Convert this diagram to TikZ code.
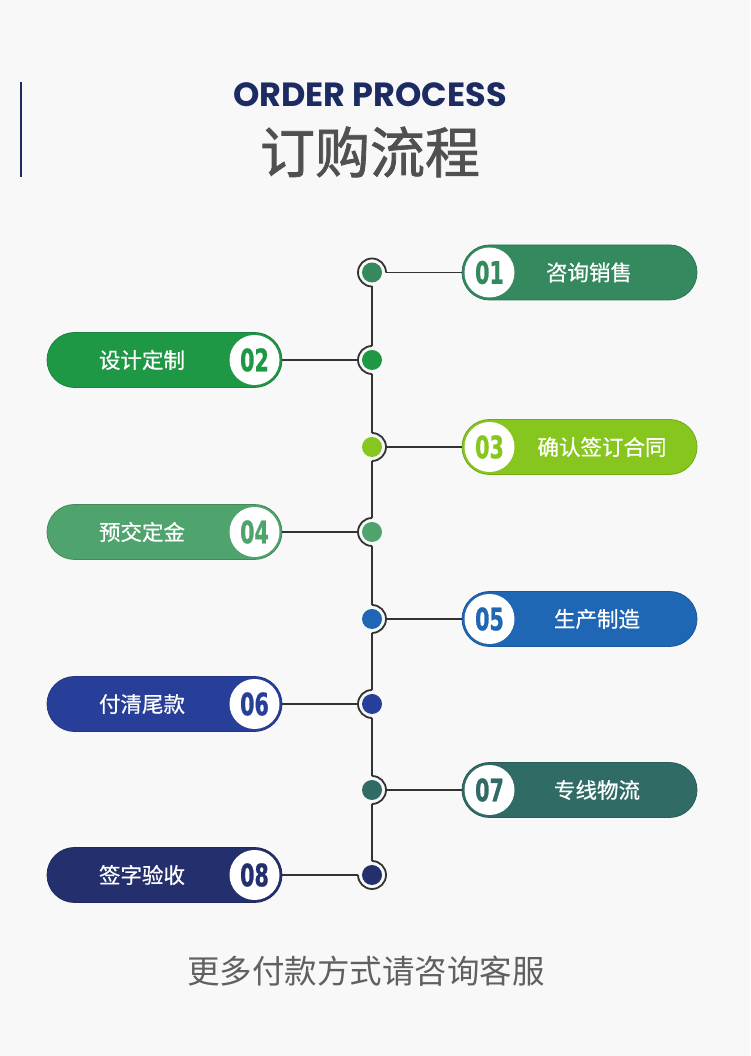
\documentclass[tikz,border=0pt]{standalone}
\usepackage{fontspec}
\setmainfont{Noto Sans CJK SC}
\newfontfamily\cjk{Noto Sans CJK SC}
\newfontfamily\cjkmed[FakeBold=0.6]{Noto Sans CJK SC}
\newfontfamily\cjkbold[FakeBold=1.4]{Noto Sans CJK SC}
\newfontfamily\numfont[FakeStretch=0.74,FakeBold=0.8]{DejaVu Sans Condensed}
\newfontfamily\titlefont{Poppins}
\usetikzlibrary{shapes.misc}
\definecolor{bgc}{HTML}{F8F8F8}
\definecolor{navy}{HTML}{1D2B63}
\definecolor{bar}{HTML}{1F2A5E}
\definecolor{titlegrey}{HTML}{505050}
\definecolor{footgrey}{HTML}{606060}
\definecolor{line}{HTML}{333333}
\definecolor{cA}{HTML}{35895F}
\definecolor{cB}{HTML}{1F9846}
\definecolor{cC}{HTML}{86C61E}
\definecolor{cD}{HTML}{4FA36D}
\definecolor{cE}{HTML}{1F67B5}
\definecolor{cF}{HTML}{283F99}
\definecolor{cG}{HTML}{306B66}
\definecolor{cH}{HTML}{24306E}
\tikzset{
  pill/.style={rounded rectangle, minimum width=235, minimum height=55, inner sep=0, outer sep=0, draw=#1!85!black, line width=0.8, fill=#1},
  numcirc/.style={circle, fill=white, minimum size=50, inner sep=0, outer sep=0, text=#1, font=\numfont\bfseries\fontsize{31}{31}\selectfont},
  lbl/.style={text=white, inner sep=0, font=\cjkmed\fontsize{21.5}{21.5}\selectfont},
  dot/.style={circle, fill=#1, minimum size=20, inner sep=0, outer sep=0},
  conn/.style={draw=line, line width=1.8},
}
% id, y, color, num, label, labelx, arc start, arc end
\newcommand{\rightstep}[8]{%
  \node[pill=#3] (p#1) at (579.5,#2) {};
  \node[numcirc=#3] (n#1) at (489.5,#2) {#4};
  \node[lbl] (l#1) at (#6,#2) {#5};
  \node[dot=#3] (d#1) at (372,#2) {};
  \path (d#1.center) ++(14,0) coordinate (r#1);
  \path (d#1.center) ++(0,14) coordinate (t#1);
  \path (d#1.center) ++(0,-14) coordinate (b#1);
  \draw[conn] (d#1.center) ++(#7:14) arc[start angle=#7, end angle=#8, radius=14];
  \draw[conn] (r#1) -- (p#1.west);
}
\newcommand{\leftstep}[8]{%
  \node[pill=#3] (p#1) at (164.5,#2) {};
  \node[numcirc=#3] (n#1) at (254.5,#2) {#4};
  \node[lbl] (l#1) at (#6,#2) {#5};
  \node[dot=#3] (d#1) at (372,#2) {};
  \path (d#1.center) ++(-14,0) coordinate (r#1);
  \path (d#1.center) ++(0,14) coordinate (t#1);
  \path (d#1.center) ++(0,-14) coordinate (b#1);
  \draw[conn] (d#1.center) ++(#7:14) arc[start angle=#7, end angle=#8, radius=14];
  \draw[conn] (r#1) -- (p#1.east);
}
\begin{document}
\begin{tikzpicture}[x=1pt,y=1pt]
\fill[bgc] (0,0) rectangle (750,1056);
\useasboundingbox (0,0) rectangle (750,1056);
\draw[bar, line width=2] (21,974) -- (21,879);
\node[inner sep=0, text=navy] (title) at (370,961) {\titlefont\bfseries\fontsize{33.5}{33.5}\selectfont ORDER PROCESS};
\node[inner sep=0, text=titlegrey] (subtitle) at (370,904) {\cjkbold\fontsize{55}{55}\selectfont 订购流程};
\rightstep{1}{783.5}{cA}{01}{咨询销售}{589}{270}{0}
\leftstep{2}{696}{cB}{02}{设计定制}{142}{90}{270}
\rightstep{3}{609}{cC}{03}{确认签订合同}{602}{90}{-90}
\leftstep{4}{524}{cD}{04}{预交定金}{142}{90}{270}
\rightstep{5}{437}{cE}{05}{生产制造}{597}{90}{-90}
\leftstep{6}{352}{cF}{06}{付清尾款}{142}{90}{270}
\rightstep{7}{266}{cG}{07}{专线物流}{597}{90}{-90}
\leftstep{8}{181}{cH}{08}{签字验收}{142}{90}{-180}
\draw[conn] (b1) -- (t2) (b2) -- (t3) (b3) -- (t4) (b4) -- (t5) (b5) -- (t6) (b6) -- (t7) (b7) -- (t8);
\node[inner sep=0, text=footgrey] (foot) at (366,85) {\cjk\fontsize{32.5}{32.5}\selectfont 更多付款方式请咨询客服};
\end{tikzpicture}
\end{document}
